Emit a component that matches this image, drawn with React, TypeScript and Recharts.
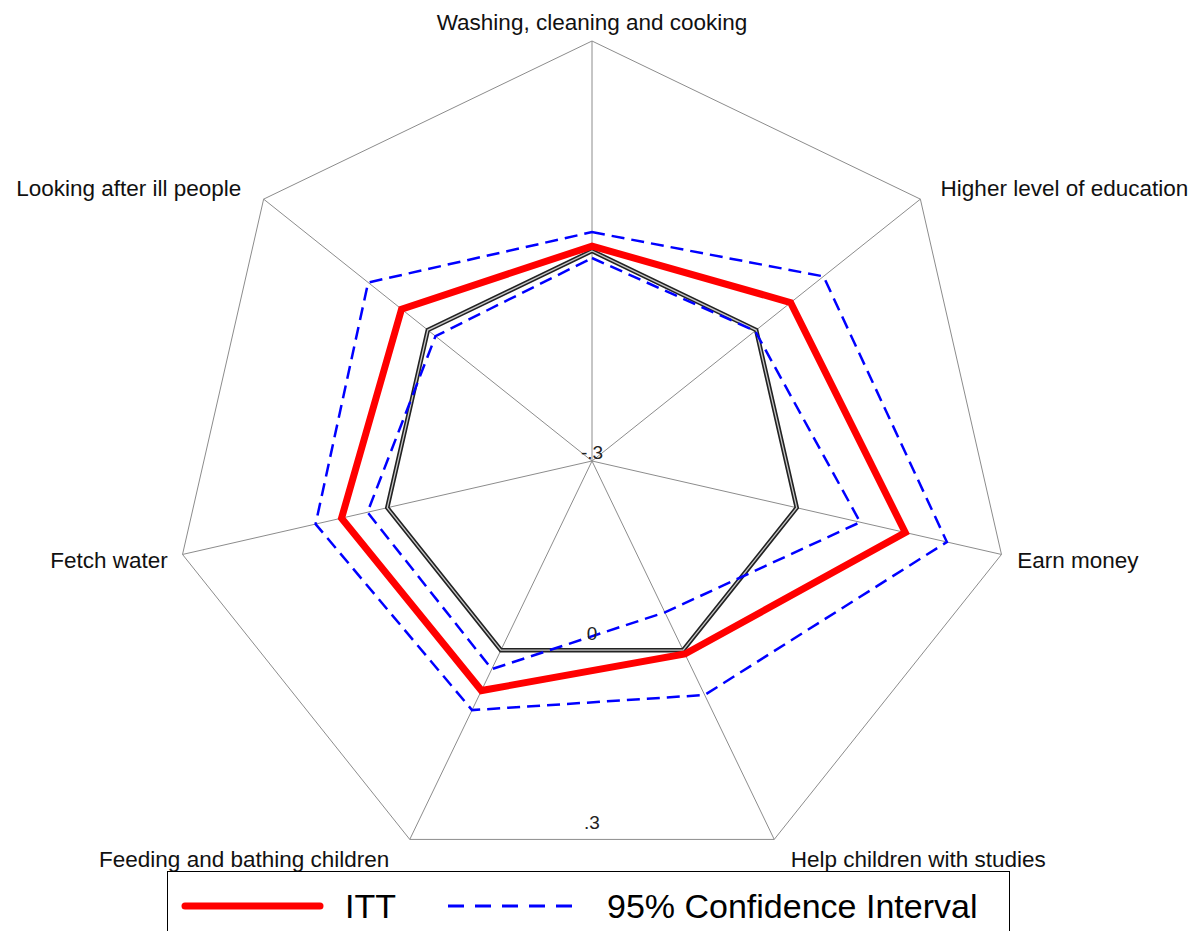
import { PolarAngleAxis, PolarGrid, PolarRadiusAxis, Radar, RadarChart } from "recharts";

const categories = [
  "Washing, cleaning and cooking",
  "Higher level of education",
  "Earn money",
  "Help children with studies",
  "Feeding and bathing children",
  "Fetch water",
  "Looking after ill people",
];

const ittValues = [0.007, 0.063, 0.159, 0.006, 0.064, 0.067, 0.048];
const upperValues = [0.027, 0.123, 0.22, 0.071, 0.095, 0.105, 0.109];
const lowerValues = [-0.01, -0.002, 0.093, -0.06, 0.03, 0.029, -0.014];
const zeroValues = [0, 0, 0, 0, 0, 0, 0];
const radiusTicks = [-0.3, 0, 0.3];

const rows = categories.map((name, i) => ({
  name,
  itt: ittValues[i],
  upper: upperValues[i],
  lower: lowerValues[i],
  zero: zeroValues[i],
}));

const CX = 592;
const CY = 461;
const RADIUS = 420;
const FONT = "'Liberation Sans', Arial, sans-serif";

// label placement relative to the tick point Recharts hands us
const labelOffsets: { anchor: "start" | "middle" | "end"; dx: number; dy: number }[] = [
  { anchor: "middle", dx: 0, dy: -3 },
  { anchor: "start", dx: 14, dy: 2 },
  { anchor: "start", dx: 8, dy: 12 },
  { anchor: "start", dx: 13, dy: 20 },
  { anchor: "end", dx: -17, dy: 20 },
  { anchor: "end", dx: -7, dy: 12 },
  { anchor: "end", dx: -16, dy: 2 },
];

function AngleTick(props: any) {
  const { x, y, payload, index } = props;
  const off = labelOffsets[index] ?? labelOffsets[0];
  return (
    <text
      x={x + off.dx}
      y={y + off.dy}
      textAnchor={off.anchor}
      fill="#111"
      fontSize={22.5}
      fontFamily={FONT}
    >
      {payload.value}
    </text>
  );
}

function RadiusTick(props: any) {
  const { x, y, payload } = props;
  const depth = (y - CY) * Math.cos(Math.PI / 7);
  const label = String(payload.value).replace("0.", ".");
  // the centre label sits on the hub, the others just above each ring edge
  const lift = depth < 1 ? -2 : -10;
  return (
    <text x={x} y={CY + depth + lift} textAnchor="middle" fill="#222" fontSize={19} fontFamily={FONT}>
      {label}
    </text>
  );
}

export default function App() {
  return (
    <div style={{ position: "absolute", left: 0, top: 0, width: 1194, height: 931, background: "#fff", overflow: "hidden" }}>
      <RadarChart width={1194} height={931} data={rows} cx={CX} cy={CY} outerRadius={RADIUS} margin={{ top: 0, right: 0, bottom: 0, left: 0 }}>
        <PolarGrid gridType="polygon" polarRadius={[RADIUS]} stroke="#8c8c8c" strokeWidth={1} />
        <PolarAngleAxis dataKey="name" tick={AngleTick} tickLine={false} axisLine={false} />
        <PolarRadiusAxis
          angle={-90}
          type="number"
          domain={[-0.3, 0.3]}
          ticks={radiusTicks}
          tick={RadiusTick}
          axisLine={false}
          tickLine={false}
        />
        <Radar dataKey="zero" stroke="#222" strokeWidth={4.5} fill="none" dot={false} isAnimationActive={false} />
        <Radar dataKey="zero" stroke="#c8c8c8" strokeWidth={1.3} fill="none" dot={false} isAnimationActive={false} />
        <Radar dataKey="upper" stroke="#0000ff" strokeWidth={2.5} strokeDasharray="13 7" fill="none" dot={false} isAnimationActive={false} />
        <Radar dataKey="lower" stroke="#0000ff" strokeWidth={2.5} strokeDasharray="13 7" fill="none" dot={false} isAnimationActive={false} />
        <Radar dataKey="itt" stroke="#ff0000" strokeWidth={7} fill="none" dot={false} isAnimationActive={false} />
      </RadarChart>

      <div
        style={{
          position: "absolute",
          left: 167,
          top: 871,
          width: 843,
          height: 90,
          border: "1.5px solid #000",
          boxSizing: "border-box",
        }}
      >
        <svg width={843} height={60} style={{ position: "absolute", left: 0, top: 0 }}>
          <line x1={17} y1={34} x2={152} y2={34} stroke="#ff0000" strokeWidth={7} strokeLinecap="round" />
          <text x={177} y={46} fontSize={34} fontFamily={FONT} fill="#000">ITT</text>
          <line x1={280} y1={34} x2={413} y2={34} stroke="#0000ff" strokeWidth={3} strokeDasharray="16 11" />
          <text x={439} y={46} fontSize={34} fontFamily={FONT} fill="#000">95% Confidence Interval</text>
        </svg>
      </div>
    </div>
  );
}
